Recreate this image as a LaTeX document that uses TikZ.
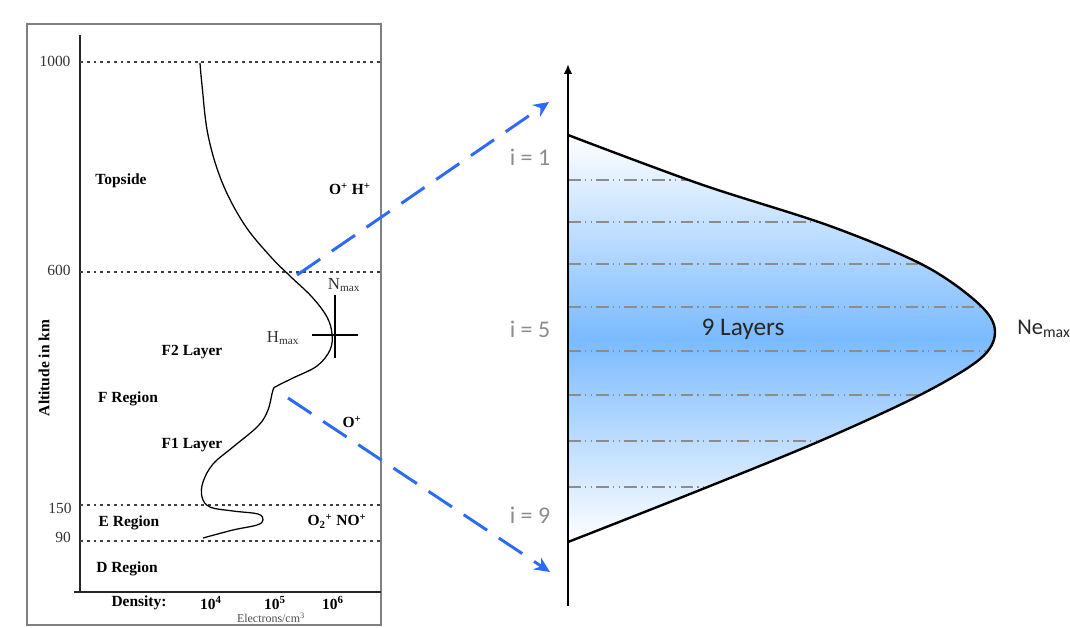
\documentclass[tikz,border=0pt]{standalone}
\usepackage{fontspec}
\setmainfont{Liberation Serif}
\newfontfamily\calibri{Carlito}
\usepackage{tikz}
\usetikzlibrary{arrows.meta,positioning}

\definecolor{linkblue}{RGB}{45,105,250}
\definecolor{areablue}{RGB}{122,186,255}
\definecolor{framegray}{RGB}{128,128,128}

\def\profile{plot[smooth, tension=0.55] coordinates {(568,135) (700,184) (830,226) (925,266) (980,305) (995,332) (980,359) (920,395) (820,441) (700,490) (568,542)}}

\begin{document}
\begin{tikzpicture}[
  x=0.025cm, y=-0.025cm,
  lbl/.style={font=\fontsize{11}{13}\selectfont\bfseries},
  tick/.style={font=\fontsize{11}{13}\selectfont, text=black!80},
  guide/.style={dash pattern=on 2pt off 2.8pt, line width=0.8pt, black!75},
  layer/.style={black!45, line width=1.4pt, dash pattern=on 9pt off 3pt on 1pt off 3pt on 1pt off 3pt},
  idx/.style={font=\calibri\fontsize{17}{20}\selectfont, text=black!45},
  link/.style={-{Stealth[length=11pt,width=10pt]}, line width=2.1pt, linkblue, dash pattern=on 20pt off 10pt},
]
\useasboundingbox (0,0) rectangle (1070,627);

\draw[framegray, line width=1.3pt] (27,24) rectangle (381,625);
\draw[black!85, line width=1pt] (80,35) -- (80,592);
\draw[black!85, line width=1pt] (74,592) -- (381,592);

\foreach \y in {62,272,505,541}
  \draw[guide] (80,\y) -- (381,\y);

\node[tick] (t1000) at (55,61) {1000};
\node[tick] (t600) at (59,270) {600};
\node[tick] (t150) at (60,508) {150};
\node[tick] (t90) at (63,537) {90};

\node[lbl, rotate=90] (alt) at (44,368) {Altitude in km};

\draw[line width=0.9pt] plot[smooth, tension=0.6] coordinates {
  (200,63) (202,85) (208,135) (222,182) (244,224) (270,256) (290,276)
  (312,297) (327,317) (332,334) (330,350) (317,366) (293,378) (277,386)
  (273,390) (268,410) (258,426) (233,447) (213,464) (203,482) (202,497)
  (210,507) (233,511) (258,514) (263,520) (257,525) (233,530) (203,538)};

\draw[line width=0.8pt] (312,335) -- (358,335);
\draw[line width=0.8pt] (335,295) -- (335,358);

\node[lbl] (topside) at (121,181) {Topside};
\node[lbl] (ohp) at (350,189) {O\textsuperscript{+} H\textsuperscript{+}};
\node[tick, font=\fontsize{12}{14}\selectfont] (nmax) at (344,285) {N\textsubscript{max}};
\node[tick, font=\fontsize{12}{14}\selectfont] (hmax) at (283,338) {H\textsubscript{max}};
\node[lbl] (f2) at (192,352) {F2 Layer};
\node[lbl] (freg) at (128,399) {F Region};
\node[lbl] (op) at (352,422) {O\textsuperscript{+}};
\node[lbl] (f1) at (192,445) {F1 Layer};
\node[lbl] (ereg) at (129,523) {E Region};
\node[lbl] (ono) at (337,521) {O\textsubscript{2}\textsuperscript{+} NO\textsuperscript{+}};
\node[lbl] (dreg) at (127,569) {D Region};
\node[lbl, inner sep=1pt] (dens) at (139,603) {Density:};
\node[lbl, inner sep=1pt] (d4) at (211,603) {10\textsuperscript{4}};
\node[lbl, inner sep=1pt] (d5) at (275,603) {10\textsuperscript{5}};
\node[lbl, inner sep=1pt] (d6) at (333,603) {10\textsuperscript{6}};
\node[font=\fontsize{8.5}{10}\selectfont, text=black!70, inner sep=0.5pt] (unit) at (271,618) {Electrons/cm\textsuperscript{3}};

\fill[top color=white, bottom color=white, middle color=areablue] \profile -- cycle;
\begin{scope}
  \clip \profile -- cycle;
  \foreach \y in {180,222,264,307,351,395,441,487}
    \draw[layer] (568,\y) -- (1000,\y);
\end{scope}
\draw[line width=1.7pt] \profile;

\draw[-{Latex[length=7pt,width=6pt]}, line width=1.5pt] (568,606) -- (568,64);

\node[idx] (i1) at (530,157) {i = 1};
\node[idx] (i5) at (530,329) {i = 5};
\node[idx] (i9) at (530,515) {i = 9};
\node[font=\calibri\fontsize{18}{21}\selectfont, text=black!85] (nlayers) at (743,329) {9 Layers};
\node[font=\calibri\fontsize{16}{19}\selectfont, text=black!85, anchor=west, inner sep=0pt] (nemax) at (1017,329) {Ne\textsubscript{max}};

\coordinate (fromtop) at (297,275);
\coordinate (totop) at (549,102);
\coordinate (frombot) at (288,398);
\coordinate (tobot) at (550,572);
\draw[link] (fromtop) -- (totop);
\draw[link] (frombot) -- (tobot);

\end{tikzpicture}
\end{document}
